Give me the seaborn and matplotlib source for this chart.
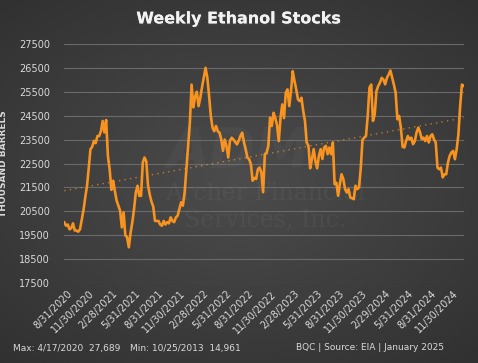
import numpy as np
import pandas as pd
import matplotlib.pyplot as plt
import matplotlib.patheffects as pe
import seaborn as sns

# weekly ethanol stocks, thousand barrels
stocks = [
    20040, 19900, 19950, 19750, 19800, 20000, 19700, 19700, 19650, 19750,
    20150, 20550, 21080, 21550, 22300, 23100, 23200, 23450, 23350, 23650,
    23650, 23850, 24280, 23800, 24320, 22820, 22260, 21400, 21780, 21350,
    20950, 20740, 20530, 19830, 20460, 19500, 19420, 19000, 19600, 20040,
    20600, 21290, 21570, 21150, 21150, 22540, 22750, 22600, 21600, 21200,
    20900, 20700, 20100, 20100, 20100, 19950, 19900, 20100, 19950, 20050,
    20000, 20250, 20100, 20050, 20250, 20320, 20600, 20880, 20740, 21290,
    22260, 23240, 24200, 25800, 24850, 25300, 25500, 24900, 25250, 25700,
    26100, 26500, 26100, 25350, 24500, 24000, 23850, 24070, 23850, 23790,
    23510, 23030, 23500, 23240, 22750, 23450, 23580, 23500, 23400, 23300,
    23450, 23650, 23790, 23400, 23100, 22750, 22680, 22470, 21780, 21900,
    21850, 22260, 22330, 22120, 21300, 22890, 22950, 23240, 24420, 24070,
    24620, 24400, 24100, 23440, 24420, 24970, 24400, 25460, 25600, 24900,
    25530, 26360, 25950, 25600, 25180, 25110, 25250, 24700, 24280, 23375,
    23240, 22300, 22680, 23100, 22600, 22300, 22820, 23100, 22690, 23170,
    23240, 22890, 23170, 22890, 23375, 21640, 21700, 21150, 21640, 22050,
    21850, 21430, 21290, 21430, 21080, 21050, 21010, 21570, 21430, 21500,
    22300, 23500, 23580, 23650, 24500, 25670, 25800, 24280, 24550, 25530,
    25740, 25880, 26080, 26010, 25810, 26080, 26220, 26390, 26100, 25800,
    25460, 24350, 24490, 24000, 23200, 23170, 23440, 23650, 23510, 23580,
    23310, 23440, 23800, 24000, 23800, 23520, 23580, 23440, 23650, 23380,
    23650, 23720, 23510, 23375, 22330, 22260, 22330, 21920, 22050, 22050,
    22540, 22820, 22960, 23030, 22680, 23100, 23720, 24900, 25800, 25750,
]
weeks = pd.date_range("2020-08-21", periods=len(stocks), freq="7D")

tick_labels = ["8/31/2020", "11/30/2020", "2/28/2021", "5/31/2021", "8/31/2021",
               "11/30/2021", "2/28/2022", "5/31/2022", "8/31/2022", "11/30/2022",
               "2/28/2023", "5/31/2023", "8/31/2023", "11/30/2023", "2/29/2024",
               "5/31/2024", "8/31/2024", "11/30/2024"]
y_ticks = list(range(17500, 28500, 1000))

df = pd.DataFrame({"week": weeks, "stocks": stocks})
# linear trend of the series
t = np.arange(len(df))
coef = np.polyfit(t, df["stocks"], 1)
df["trend"] = np.polyval(coef, t)

ORANGE = "#F7931E"
TXT = "#d9d9d9"

fig = plt.figure(figsize=(4.78, 3.63), dpi=100)

# radial gray background
bg = fig.add_axes([0, 0, 1, 1], zorder=-10)
yy, xx = np.mgrid[-1:1:363j, -1:1:478j]
r = np.sqrt((xx * 0.9) ** 2 + (yy * 1.0) ** 2)
bg.imshow(0.30 - 0.11 * np.clip(r, 0, 1.4) / 1.4, cmap="gray", vmin=0, vmax=1,
          aspect="auto", extent=[0, 1, 0, 1])
bg.axis("off")

# faint watermark
fig.text(0.555, 0.43, "Archer Financial\nServices, Inc.", ha="center", va="center",
         family="DejaVu Serif", fontsize=17, color="white", alpha=0.045, linespacing=1.2)
fig.text(0.50, 0.58, "ADM", ha="center", va="center", fontsize=40, fontweight="bold",
         style="italic", color="white", alpha=0.03)

ax = fig.add_axes([0.134, 0.220, 0.837, 0.659])
ax.set_facecolor("none")

sns.lineplot(data=df, x="week", y="trend", ax=ax, color=ORANGE, lw=1.0,
             linestyle=(0, (1, 3)), alpha=0.7)
sns.lineplot(data=df, x="week", y="stocks", ax=ax, color=ORANGE, lw=1.9)

ax.set_ylim(17500, 27500)
ax.set_yticks(y_ticks)
ax.set_yticklabels([str(v) for v in y_ticks])
ax.set_xlim(weeks[0] - pd.Timedelta(days=1), weeks[-1] + pd.Timedelta(days=2))
tick_dates = pd.to_datetime(tick_labels, format="%m/%d/%Y")
ax.set_xticks(tick_dates)
ax.set_xticklabels(tick_labels, rotation=45, ha="right", rotation_mode="anchor")

ax.grid(axis="y", color="#6a6a6a", lw=0.8)
ax.grid(axis="x", visible=False)
for s in ax.spines.values():
    s.set_visible(False)
ax.tick_params(length=0, colors=TXT, labelsize=7)
ax.tick_params(axis="y", pad=10)
ax.tick_params(axis="x", pad=4)
ax.set_xlabel("")
ax.set_ylabel("THOUSAND BARRELS", color=TXT, fontsize=6.5, fontweight="bold", labelpad=8)

title = fig.text(0.5, 0.948, "Weekly Ethanol Stocks", ha="center", va="center",
                 color="#f2f2f2", fontsize=11.5, fontweight="bold")
title.set_path_effects([pe.withSimplePatchShadow(offset=(1, -1), alpha=0.5), pe.Normal()])
fig.text(0.027, 0.04, "Max: 4/17/2020  27,689", color=TXT, fontsize=6.5, va="center")
fig.text(0.272, 0.04, "Min: 10/25/2013  14,961", color=TXT, fontsize=6.5, va="center")
fig.text(0.619, 0.043, "BQC | Source: EIA | January 2025", color=TXT, fontsize=6.5,
         va="center")

fig.savefig("out.png", dpi=100)
